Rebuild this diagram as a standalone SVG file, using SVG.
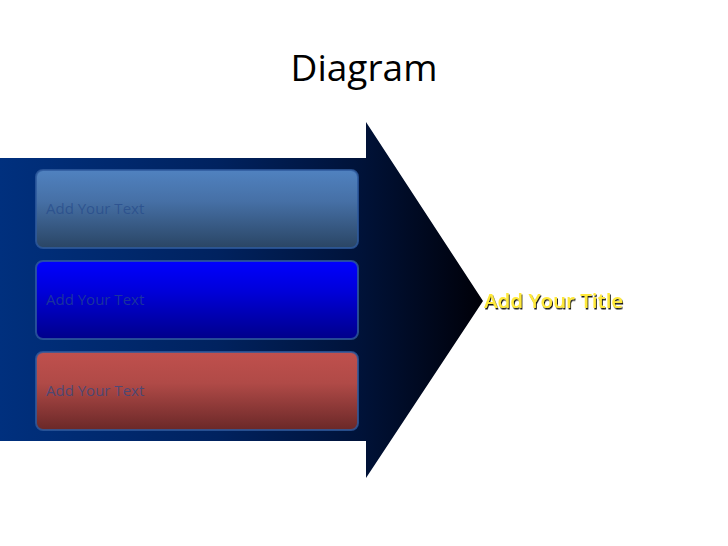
<svg xmlns="http://www.w3.org/2000/svg" width="728" height="546" viewBox="0 0 728 546">
<defs>
<linearGradient id="arrowG" x1="0" y1="0" x2="1" y2="0" gradientUnits="objectBoundingBox">
<stop offset="0" stop-color="#00307e"/>
<stop offset="0.45" stop-color="#00225f"/>
<stop offset="0.75" stop-color="#001238"/>
<stop offset="1" stop-color="#000008"/>
</linearGradient>
<linearGradient id="g1" x1="0" y1="0" x2="0" y2="1">
<stop offset="0" stop-color="#5082c0"/>
<stop offset="0.4" stop-color="#4670a6"/>
<stop offset="1" stop-color="#2a4564"/>
</linearGradient>
<linearGradient id="g2" x1="0" y1="0" x2="0" y2="1">
<stop offset="0" stop-color="#0000ff"/>
<stop offset="0.4" stop-color="#0000d8"/>
<stop offset="1" stop-color="#00008a"/>
</linearGradient>
<linearGradient id="g3" x1="0" y1="0" x2="0" y2="1">
<stop offset="0" stop-color="#c0504d"/>
<stop offset="0.4" stop-color="#b04a47"/>
<stop offset="1" stop-color="#6a2828"/>
</linearGradient>
<filter id="sh" x="-10%" y="-30%" width="120%" height="160%">
<feDropShadow dx="1" dy="1.5" stdDeviation="0.6" flood-color="#000" flood-opacity="0.9"/>
</filter>
</defs>
<style>
.box{stroke:#2e5a9e;stroke-width:2;stroke-opacity:0.8}
.bt{font-family:"Open Sans","Noto Sans",sans-serif;font-size:15px;fill:#254a8a;fill-opacity:0.7}
.title{font-family:"Open Sans","Noto Sans",sans-serif;font-size:37px;fill:#000}
.yt{font-family:"Open Sans","Noto Sans",sans-serif;font-size:20.5px;fill:#ffe93a;font-weight:600}
</style>
<rect width="728" height="546" fill="#ffffff"/>
<text class="title" x="364" y="81" text-anchor="middle">Diagram</text>
<g id="arrow">
<polygon points="0,158 366,158 366,122 483,301 366,478 366,441 0,441" fill="url(#arrowG)"/>
</g>
<g id="box1">
<rect class="box" x="36" y="170" width="322" height="78" rx="7" fill="url(#g1)"/>
<text class="bt" x="46" y="214">Add Your Text</text>
</g>
<g id="box2">
<rect class="box" x="36" y="261" width="322" height="78" rx="7" fill="url(#g2)"/>
<text class="bt" x="46" y="305">Add Your Text</text>
</g>
<g id="box3">
<rect class="box" x="36" y="352" width="322" height="78" rx="7" fill="url(#g3)"/>
<text class="bt" x="46" y="396">Add Your Text</text>
</g>
<g id="label">
<text class="yt" x="484" y="308" filter="url(#sh)">Add Your Title</text>
</g>
<g id="connectors"/>
</svg>
